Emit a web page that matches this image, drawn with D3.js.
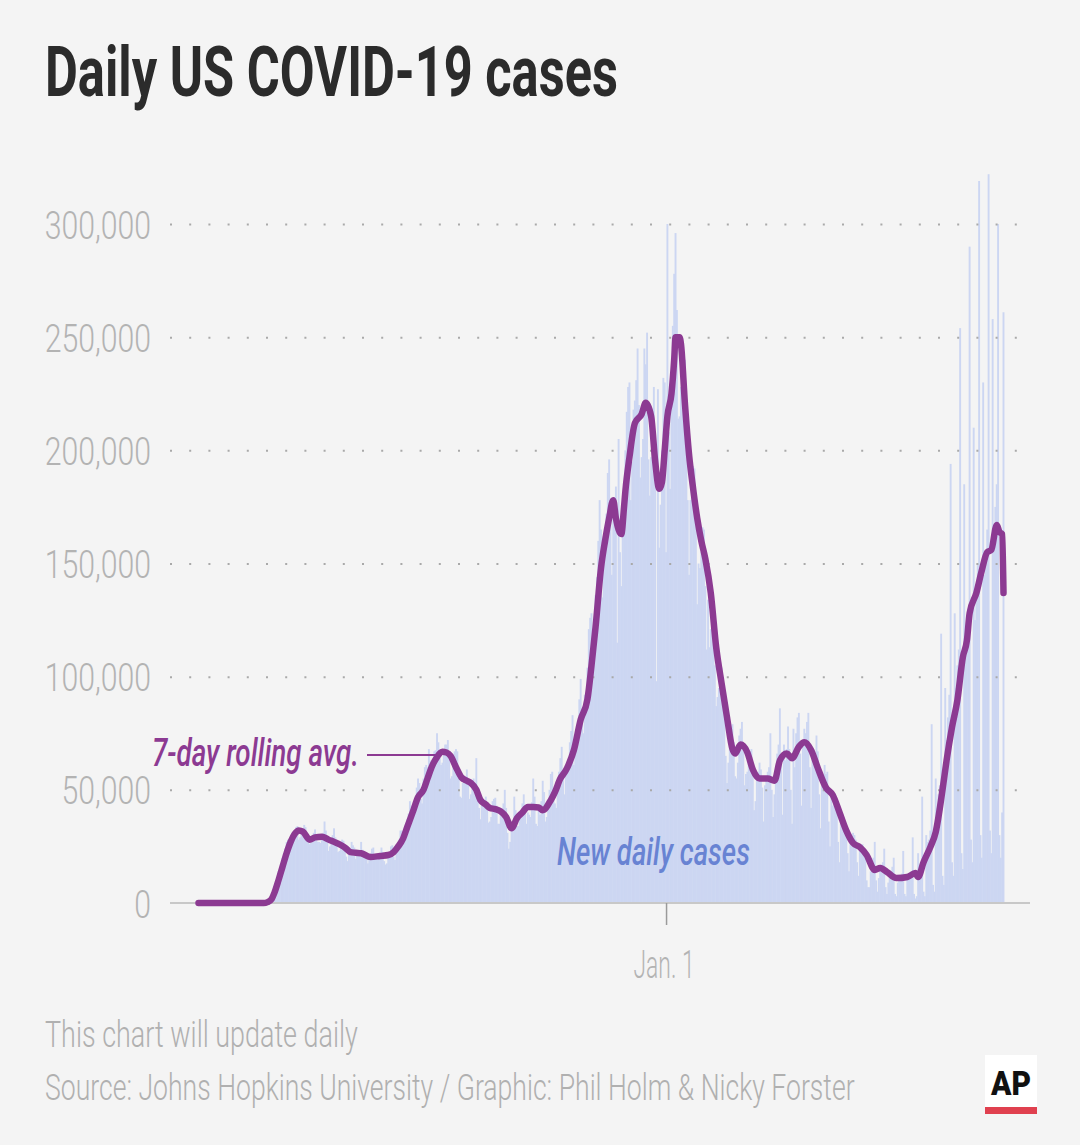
<!DOCTYPE html>
<html>
<head>
<meta charset="utf-8">
<script src="https://cdn.jsdelivr.net/npm/d3@7"></script>
<style>
  html, body { margin: 0; padding: 0; background: #f4f4f4; }
  svg { display: block; }
</style>
</head>
<body>
<svg id="chart" width="1080" height="1145"></svg>
<script>
// ---------------- DATA ----------------
const titleText = "Daily US COVID-19 cases";
const yTickValues = [0, 50000, 100000, 150000, 200000, 250000, 300000];
const xTickDates = ["2021-01-01"];
const xTickLabels = ["Jan. 1"];
const avgLabel = "7-day rolling avg.";
const dailyLabel = "New daily cases";
const noteText = "This chart will update daily";
const sourceText = "Source: Johns Hopkins University / Graphic: Phil Holm & Nicky Forster";

// New daily cases, in thousands. One row per month; 2020 starts on Jan. 22.
const dailyCases2020 = [
  [0,0,0,0,0,0,0,0,0,0],
  [0,0,0,0,0,0,0,0,0,0,0,0,0,0,0,0,0,0,0,0,0,0,0,0,0,0,0,0,0],
  [0.02,0.03,0.05,0.04,0.08,0.1,0.12,0.12,0.2,0.3,0.4,0.5,0.6,0.7,1.5,2.5,4,6,9,11,14,15,17,20,22,24,27,28,27,28,31],
  [30.5,32,33.5,34,28,29,31,32.5,34.5,33.5,30,27,26,26.5,29,31,32.5,29,27,27,26.5,29.5,31,36,32,27,23,25,28,30],
  [33,29,26,22.5,23,24.5,28,27.5,25.5,20.5,18.5,22,21,27,25.5,24.5,19.5,21.5,21,22,27,23.5,23,20,19.5,17.5,19.5,22,24,24.5,20.5],
  [20.5,20.5,20,21,24.5,22.5,18.5,17,17.5,21,22.5,25,25.5,20.5,19,23.5,26,28,32,32,27.5,28.5,34.5,37,39.5,45,43,40.5,41,45.5],
  [51,55,53,46,44,55,60,61,60,68,63,59,62,67,67.5,75,71,64,61,62,66,70,70,72,64,55,56,61,67,68,67],
  [58,47,46.5,53,53.5,55,59,54,46,48,53,55,52,64,51,42,37,44,46,44,47,43.5,35.5,36,38,45,46,46.5,43,35,35],
  [42,40,44,50,42,31,24,27,35,36,47,41,34,34,38,39,44,48,42,35,40,39,38,44.5,55,47,35,34,41,39],
  [45,54,49,36,38,43,50,57,58,48,44,42,50,58,64,69,56,48,59,61,63,71,76,83,61,66,74,79,90,99,84],
  [75,92,92,104,121,126,128,110,120,136,144,160,178,165,135,162,158,172,190,196,178,145,172,176,184,115,205,155,140,162],
  [182,200,217,228,230,178,195,218,222,231,245,220,188,197,205,245,238,252,196,180,197,200,228,190,98,227,157,176,200,232,230]
];
const dailyCases2021 = [
  [155,300,208,183,235,255,278,296,262,214,215,228,230,235,240,200,178,145,178,183,193,192,172,132,150,148,155,166,165,140,112],
  [134,113,121,123,132,105,87,91,95,95,104,99,85,65,53,62,69,70,79,71,56,55,62,74,77,80,67,52],
  [57,58,66,67,68,59,41,45,57,58,62,59,51,36,52,54,58,60,75,50,38,48,55,66,70,86,62,39,70,63,68],
  [78,68,50,35,77,60,75,82,84,66,43,70,77,75,80,84,60,42,66,61,64,74,67,48,33,55,56,61,57,58],
  [36,25,48,43,46,46,43,27,18,37,34,38,35,33,22,14,26,27,31,30,28,18,12,24,23,26,24,21,10,7,7],
  [14,17,20,27,10,5,11,15,17,18,24,7,4,9,13,14,16,20,4,3,9,11,12,13,23,4,3,12,13,13],
  [14,29,4,2,3,22,17,18,47,5,3,30,27,28,32,79,8,5,55,42,48,52,119,12,8,95,72,82,92,194,18],
  [12,128,95,105,112,254,22,15,185,110,125,130,290,28,18,210,125,140,150,319,30,20,230,145,155,165,322,32,22,258,160],
  [175,185,300,30,20,40,261]
];

// 7-day rolling average (thousands)
const avgDates = [
  "2020-01-22","2020-03-10","2020-03-13","2020-03-16","2020-03-18","2020-03-21","2020-03-24","2020-03-27","2020-03-30",
  "2020-04-02","2020-04-05","2020-04-08","2020-04-13","2020-04-17","2020-04-22","2020-04-27","2020-05-01","2020-05-06",
  "2020-05-10","2020-05-13","2020-05-17","2020-05-21","2020-05-28","2020-06-04","2020-06-10","2020-06-14","2020-06-17",
  "2020-06-21","2020-06-24","2020-06-28","2020-07-02","2020-07-06","2020-07-09","2020-07-12","2020-07-16","2020-07-20",
  "2020-07-23","2020-07-26","2020-07-30","2020-08-03","2020-08-07","2020-08-10","2020-08-14","2020-08-17","2020-08-21",
  "2020-08-24","2020-08-28","2020-09-01","2020-09-05","2020-09-09","2020-09-13","2020-09-17","2020-09-21","2020-09-25",
  "2020-09-29","2020-10-02","2020-10-08","2020-10-11","2020-10-15","2020-10-19","2020-10-21","2020-10-25","2020-10-30",
  "2020-11-04","2020-11-07","2020-11-10","2020-11-14","2020-11-17","2020-11-20","2020-11-23","2020-11-25","2020-11-29",
  "2020-12-01","2020-12-02","2020-12-05","2020-12-09","2020-12-14","2020-12-17","2020-12-21","2020-12-24","2020-12-27",
  "2020-12-29","2020-12-31","2021-01-02","2021-01-05","2021-01-07","2021-01-08","2021-01-11","2021-01-12","2021-01-15",
  "2021-01-18","2021-01-21","2021-01-24","2021-01-27","2021-01-30","2021-02-03","2021-02-07","2021-02-11","2021-02-15",
  "2021-02-19","2021-02-21","2021-02-25","2021-03-02","2021-03-06","2021-03-11","2021-03-17","2021-03-22","2021-03-26",
  "2021-03-31","2021-04-04","2021-04-09","2021-04-13","2021-04-18","2021-04-23","2021-04-29","2021-05-04","2021-05-09",
  "2021-05-14","2021-05-19","2021-05-24","2021-05-29","2021-06-04","2021-06-08","2021-06-13","2021-06-20","2021-06-28",
  "2021-07-04","2021-07-06","2021-07-10","2021-07-15","2021-07-19","2021-07-24","2021-07-27","2021-07-31","2021-08-04",
  "2021-08-08","2021-08-11","2021-08-13","2021-08-18","2021-08-22","2021-08-26","2021-08-29","2021-09-02","2021-09-04",
  "2021-09-06","2021-09-07"
];
const avgValues = [
  0,0,0.4,1.8,4.5,10,16,22,27,
  30.5,32,31.5,28,29,29.3,28,27,25.6,
  24,22.5,22.2,22,20.3,20.8,21.2,22.5,24.7,
  28.5,33.5,40,46.8,50,55,60,64.5,66.8,
  66.5,65,60,55.5,54,53,50,45.5,43.5,
  42,41.5,40.5,38,33,37.5,40,42.4,42.4,
  42.2,41,45.5,49,55,58.5,61,67.6,81,
  90,105,122,148,160,170,178,170,163,
  175,182,197,212,216,221,215,195,183,
  186,200,215,225,240,250,250,247,220,
  198,183,170,160,152,137,113,97,82,
  68,66,70,66.5,59,55,55,54,63,
  66,64,69,71,67.6,59.6,51,47.7,40,
  32,26.5,24.7,21.2,14.6,15.5,13.7,11,11.5,
  13.2,11.5,18,24.7,31.4,50,63,77.7,89.7,
  108.6,116,128,137,147,155,156,167,164,
  163,137
];

// ---------------- BUILD ----------------
const parse = d3.timeParse("%Y-%m-%d");
const daily = [];
dailyCases2020.forEach((row, m) => {
  const first = m === 0 ? 22 : 1;
  row.forEach((v, i) => daily.push({ date: new Date(2020, m, first + i), value: v * 1000 }));
});
dailyCases2021.forEach((row, m) => {
  row.forEach((v, i) => daily.push({ date: new Date(2021, m, 1 + i), value: v * 1000 }));
});
const avg = avgDates.map((d, i) => ({ date: parse(d), value: avgValues[i] * 1000 }));

const svg = d3.select("#chart");
svg.append("rect").attr("width", 1080).attr("height", 1145).attr("fill", "#f4f4f4");

const x = d3.scaleTime()
  .domain([new Date(2020, 0, 22), new Date(2021, 8, 7)])
  .range([198.5, 1003.5]);
const y = d3.scaleLinear().domain([0, 300000]).range([903, 224]);

const FONT = "Roboto, 'Liberation Sans', sans-serif";

// Helper: place a text at (px, py) and squeeze it horizontally to a target width
function fitText(sel, px, py, width, anchor) {
  const node = sel.node();
  const natural = node.getComputedTextLength();
  const s = width / natural;
  sel.attr("x", 0).attr("y", 0).attr("dy", null).attr("text-anchor", anchor || "start")
     .attr("transform", `translate(${px},${py}) scale(${s},1)`);
  return sel;
}

// Title
fitText(svg.append("text")
  .attr("font-family", FONT).attr("font-weight", 700).attr("font-size", 71)
  .attr("fill", "#2b2b2b")
  .text(titleText), 45, 96, 573);

// Bars
const barW = 1.9;
svg.append("g").selectAll("rect").data(daily).join("rect")
  .attr("x", d => x(d.date) - barW / 2)
  .attr("width", barW)
  .attr("y", d => y(d.value))
  .attr("height", d => y(0) - y(d.value))
  .attr("fill", "#ccd6f2");

// Gridlines (dotted)
const grid = svg.append("g").attr("transform", "translate(170,0)")
  .call(d3.axisLeft(y).tickValues(yTickValues.filter(v => v > 0)).tickSize(-850).tickFormat(""));
grid.select(".domain").remove();
grid.selectAll("line")
  .attr("stroke", "#a9a9a9").attr("stroke-width", 2)
  .attr("stroke-dasharray", "2,17.2");

// Baseline
svg.append("line")
  .attr("x1", 170).attr("x2", 1030).attr("y1", y(0)).attr("y2", y(0))
  .attr("stroke", "#c8c8c8").attr("stroke-width", 2);

// Y axis labels
const yAxis = svg.append("g")
  .call(d3.axisLeft(y).tickValues(yTickValues).tickSize(0).tickFormat(d3.format(",")));
yAxis.select(".domain").remove();
yAxis.selectAll("text")
  .attr("x", 0).attr("dy", null).attr("y", 0)
  .attr("text-anchor", "end")
  .attr("transform", "translate(151,14) scale(0.775,1)")
  .attr("font-family", FONT).attr("font-weight", 300).attr("font-size", 39)
  .attr("fill", "#b3b3b3");

// X axis
const xAxis = svg.append("g").attr("transform", `translate(0,${y(0)})`)
  .call(d3.axisBottom(x).tickValues(xTickDates.map(parse)).tickSize(22)
    .tickFormat((d, i) => xTickLabels[i]));
xAxis.select(".domain").remove();
xAxis.selectAll("line").attr("stroke", "#9a9a9a").attr("stroke-width", 1.5);
xAxis.selectAll("text")
  .attr("font-family", FONT).attr("font-weight", 300).attr("font-size", 39)
  .attr("fill", "#b3b3b3")
  .each(function () { fitText(d3.select(this), -2.5, 75, 61, "middle"); });

// "New daily cases" label
fitText(svg.append("text")
  .attr("font-family", FONT).attr("font-style", "italic").attr("font-weight", 500).attr("font-size", 38)
  .attr("fill", "#6883d3")
  .text(dailyLabel), 557, 865, 193);

// 7-day avg label + leader
fitText(svg.append("text")
  .attr("font-family", FONT).attr("font-style", "italic").attr("font-weight", 500).attr("font-size", 38)
  .attr("fill", "#8c3a92")
  .text(avgLabel), 152, 766, 207);
svg.append("line")
  .attr("x1", 367).attr("x2", 437).attr("y1", 755).attr("y2", 755)
  .attr("stroke", "#8c3a92").attr("stroke-width", 2);

// 7-day avg line
const line = d3.line()
  .x(d => x(d.date))
  .y(d => y(d.value))
  .curve(d3.curveMonotoneX);
svg.append("path")
  .datum(avg)
  .attr("d", line)
  .attr("fill", "none")
  .attr("stroke", "#8c3a92")
  .attr("stroke-width", 6.5)
  .attr("stroke-linejoin", "round")
  .attr("stroke-linecap", "round");

// Footer
fitText(svg.append("text")
  .attr("font-family", FONT).attr("font-weight", 300).attr("font-size", 37)
  .attr("fill", "#b0b0b0")
  .text(noteText), 45, 1047, 313);
fitText(svg.append("text")
  .attr("font-family", FONT).attr("font-weight", 300).attr("font-size", 37)
  .attr("fill", "#b0b0b0")
  .text(sourceText), 45, 1100, 810);

// AP logo
const logo = svg.append("g").attr("transform", "translate(985,1055)");
logo.append("rect").attr("width", 52).attr("height", 59).attr("fill", "#ffffff");
fitText(logo.append("text")
  .attr("font-family", FONT).attr("font-weight", 900).attr("font-size", 34)
  .attr("fill", "#111")
  .text("AP"), 26, 40, 40, "middle");
logo.append("rect").attr("y", 52).attr("width", 52).attr("height", 7).attr("fill", "#e0404f");
</script>
</body>
</html>
